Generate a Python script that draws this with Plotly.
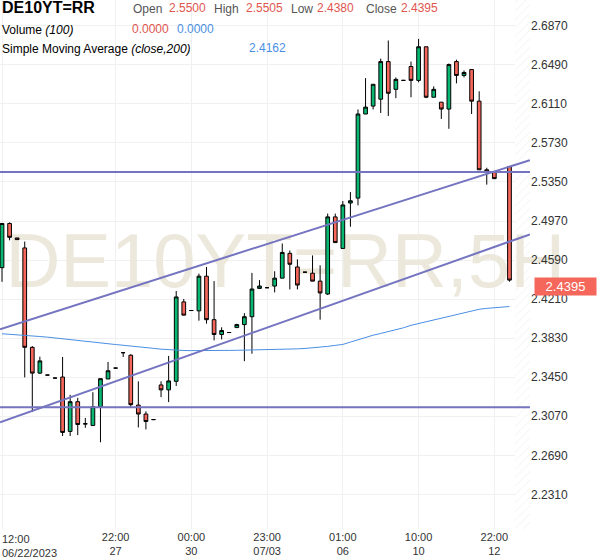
import plotly.graph_objects as go

# 5H bars, one slot per bar index (None = empty slot)
open_ = [2.4516, 2.4946, 2.4805, 2.4708, 2.3741, 2.3490, 2.3471, 2.3442, 2.3452, 2.2923,
         2.3212, 2.2994, 2.2981, 2.3163, 2.3433, 2.3539, 2.3689, 2.3664, 2.3179, 2.3092,
         2.3038, 2.3375, 2.3327, 2.3410, 2.4183, 2.4099, 2.4096, 2.4433, 2.4010, 2.3866,
         2.3885, 2.3933, 2.3962, 2.4039, 2.4314, 2.4321, 2.4337, 2.4414, 2.4655, 2.4523,
         2.4472, 2.4462, 2.4385, 2.4260, 2.5010, 2.4703, 2.5145, 2.5193, 2.6011, 2.6088,
         2.6155, 2.6521, 2.6251, 2.6338, 2.6473, 2.6338, 2.6665, 2.6174, 2.6126, 2.6059,
         2.6521, 2.6386, 2.6444, 2.6136, 2.5468, 2.5449, None, 2.5500]
high = [2.4950, 2.4956, 2.4805, 2.4770, 2.3753, 2.3650, 2.3471, 2.3442, 2.3647, 2.3279,
        2.3250, 2.3054, 2.3304, 2.3436, 2.3599, 2.3539, 2.3689, 2.3674, 2.3410, 2.3118,
        2.3038, 2.3410, 2.3657, 2.4289, 2.4212, 2.4099, 2.4458, 2.4523, 2.4385, 2.3936,
        2.3885, 2.3970, 2.4073, 2.4465, 2.4395, 2.4321, 2.4481, 2.4751, 2.4683, 2.4597,
        2.4472, 2.4635, 2.4539, 2.5042, 2.5042, 2.5164, 2.5251, 2.6055, 2.6360, 2.6300,
        2.6550, 2.6726, 2.6367, 2.6338, 2.6521, 2.6742, 2.6665, 2.6280, 2.6126, 2.6502,
        2.6540, 2.6434, 2.6444, 2.6232, 2.5488, 2.5449, None, 2.5505]
low = [2.4378, 2.4782, 2.4789, 2.3448, 2.3111, 2.3481, 2.3471, 2.3442, 2.2878, 2.2878,
       2.2887, 2.2958, 2.2977, 2.2817, 2.3433, 2.3539, 2.3647, 2.3163, 2.2961, 2.2942,
       2.3038, 2.3256, 2.3208, 2.3365, 2.4054, 2.4099, 2.4000, 2.3971, 2.3808, 2.3818,
       2.3885, 2.3930, 2.3606, 2.3679, 2.4308, 2.4321, 2.4276, 2.4414, 2.4304, 2.4304,
       2.4472, 2.4385, 2.4010, 2.4251, 2.4760, 2.4703, 2.4914, 2.5122, 2.6011, 2.6055,
       2.6021, 2.5992, 2.6165, 2.6338, 2.6174, 2.6319, 2.6165, 2.6174, 2.5963, 2.5867,
       2.6309, 2.6367, 2.6011, 2.5468, 2.5324, 2.5382, None, 2.4380]
close = [2.4946, 2.4811, 2.4789, 2.3741, 2.3490, 2.3609, 2.3471, 2.3442, 2.2913, 2.3212,
         2.2990, 2.2998, 2.3163, 2.3436, 2.3513, 2.3539, 2.3689, 2.3183, 2.3092, 2.3019,
         2.3038, 2.3327, 2.3414, 2.4231, 2.4054, 2.4099, 2.4433, 2.4010, 2.3866, 2.3904,
         2.3885, 2.3962, 2.4039, 2.4308, 2.4337, 2.4321, 2.4414, 2.4664, 2.4549, 2.4347,
         2.4472, 2.4385, 2.4270, 2.5010, 2.4760, 2.5126, 2.5167, 2.6011, 2.6078, 2.6300,
         2.6521, 2.6213, 2.6348, 2.6338, 2.6338, 2.6665, 2.6174, 2.6251, 2.6059, 2.6492,
         2.6386, 2.6415, 2.6136, 2.5468, 2.5449, 2.5382, None, 2.4395]
sma200 = [2.3873, 2.3869, 2.3863, 2.3859, 2.3852, 2.3846, 2.3840, 2.3832, 2.3823, 2.3815,
          2.3805, 2.3794, 2.3787, 2.3780, 2.3773, 2.3768, 2.3761, 2.3755, 2.3747, 2.3739,
          2.3731, 2.3723, 2.3717, 2.3712, 2.3710, 2.3709, 2.3708, 2.3708, 2.3709, 2.3710,
          2.3711, 2.3712, 2.3713, 2.3715, 2.3717, 2.3718, 2.3720, 2.3722, 2.3724, 2.3726,
          2.3730, 2.3735, 2.3741, 2.3750, 2.3760, 2.3769, 2.3792, 2.3816, 2.3842, 2.3859,
          2.3876, 2.3893, 2.3909, 2.3931, 2.3955, 2.3972, 2.3988, 2.4003, 2.4021, 2.4039,
          2.4059, 2.4075, 2.4094, 2.4111, 2.4120, 2.4126, 2.4132, 2.4138]

tick_index = [15, 25, 35, 45, 55, 65]
tick_text = ["22:00<br>27", "00:00<br>30", "23:00<br>07/03", "01:00<br>06",
             "10:00<br>10", "22:00<br>12"]
first_tick_text = "12:00<br>06/22/2023"

price_ticks = [2.2310, 2.2690, 2.3070, 2.3450, 2.3830, 2.4210, 2.4590,
               2.4970, 2.5350, 2.5730, 2.6110, 2.6490, 2.6870]

# drawings on the chart: (bar index, price) end points
channel_upper_x = [-0.26, 69.7]
channel_upper_y = [2.3917, 2.5562]
channel_lower_x = [-0.26, 69.7]
channel_lower_y = [2.3012, 2.4840]
level_lines = [2.5446, 2.3157]

last_price = 2.4395

X_RANGE = [-0.264, 69.71]
Y_RANGE = [2.19734, 2.71201]
HATCH_FROM = 67.73

GREEN = "#08b872"
RED = "#f5675b"
LINE = "#7474c0"
BLUE = "#4a8fe2"
TXT_RED = "#e05550"
FONT = "Liberation Sans, Arial, sans-serif"

fig = go.Figure()

# base subplot: hatch of the empty right edge + watermark
fig.add_trace(go.Bar(
    x=[(HATCH_FROM + X_RANGE[1]) / 2], y=[Y_RANGE[1] - Y_RANGE[0]], base=[Y_RANGE[0]],
    width=[X_RANGE[1] - HATCH_FROM],
    marker=dict(color="white", line=dict(width=0),
                pattern=dict(shape="/", fgcolor="#e4e4e4", bgcolor="white", size=6, solidity=0.15)),
    hoverinfo="skip",
))
fig.add_trace(go.Scatter(
    x=[37.4], y=[2.4515], mode="text", text=["DE10YT=RR,5H"], cliponaxis=False,
    textfont=dict(family=FONT, size=76, color="#ece8dc"), hoverinfo="skip",
))

# overlay subplot: price data
fig.add_trace(go.Scatter(
    x=list(range(len(sma200))), y=sma200, mode="lines",
    line=dict(color=BLUE, width=1), xaxis="x2", yaxis="y2", hoverinfo="skip",
))
fig.add_trace(go.Candlestick(
    x=list(range(len(open_))), open=open_, high=high, low=low, close=close,
    increasing=dict(fillcolor=GREEN, line=dict(color="black", width=1)),
    decreasing=dict(fillcolor=RED, line=dict(color="black", width=1)),
    xaxis="x2", yaxis="y2",
))
for lx, ly in [(channel_upper_x, channel_upper_y), (channel_lower_x, channel_lower_y)]:
    fig.add_trace(go.Scatter(x=lx, y=ly, mode="lines", line=dict(color=LINE, width=2),
                             xaxis="x2", yaxis="y2", hoverinfo="skip"))
for lvl in level_lines:
    fig.add_trace(go.Scatter(x=X_RANGE, y=[lvl, lvl], mode="lines", line=dict(color=LINE, width=2),
                             xaxis="x2", yaxis="y2", hoverinfo="skip"))

# header (legend-like) text
W, H = 530.0, 535.0
header = [
    ("<b>DE10YT=RR</b>", 0, 8, "black", 16),
    ("Open", 131, 9, "#555555", 12), ("2.5500", 167, 8, TXT_RED, 12),
    ("High", 212, 9, "#555555", 12), ("2.5505", 244, 8, TXT_RED, 12),
    ("Low", 289, 9, "#555555", 12), ("2.4380", 315, 8, TXT_RED, 12),
    ("Close", 364, 9, "#555555", 12), ("2.4395", 399, 8, TXT_RED, 12),
    ("Volume <i>(100)</i>", 0, 30, "black", 12),
    ("0.0000", 130, 29, TXT_RED, 12), ("0.0000", 175, 29, BLUE, 12),
    ("Simple Moving Average <i>(close,200)</i>", 0, 50, "black", 12),
    ("2.4162", 247, 49, BLUE, 12),
]
for text, px, py, color, size in header:
    fig.add_annotation(text=text, x=px / W, y=1 - py / H, xref="paper", yref="paper",
                       xanchor="left", yanchor="middle", showarrow=False,
                       font=dict(family=FONT, size=size, color=color))

# first time label sits left-aligned at the chart edge
fig.add_annotation(text=first_tick_text, x=0, y=0, xref="x", yref="paper",
                   xanchor="left", yanchor="top", align="left", showarrow=False,
                   yshift=-2, xshift=-2, font=dict(family=FONT, size=11, color="#333333"))

# last price tag on the price axis
fig.add_annotation(text=f"{last_price:.4f}", x=1, y=last_price, xref="paper", yref="y",
                   xanchor="left", yanchor="middle", xshift=4, yshift=-6, showarrow=False,
                   bgcolor=RED, width=58, height=14, borderpad=1.5,
                   font=dict(family=FONT, size=13, color="white"))

fig.update_layout(
    width=599, height=557,
    margin=dict(l=0, r=69, t=0, b=22),
    paper_bgcolor="white", plot_bgcolor="white",
    showlegend=False,
    font=dict(family=FONT, size=12, color="#333333"),
    xaxis=dict(range=X_RANGE, tickvals=[0] + tick_index, ticktext=[""] + tick_text,
               showgrid=True, gridcolor="#f0f0f0", zeroline=False, showline=False,
               ticks="", tickfont=dict(size=11), tickangle=0),
    yaxis=dict(range=Y_RANGE, side="right", tickvals=price_ticks,
               ticktext=[f"{v:.4f}" for v in price_ticks],
               showgrid=True, gridcolor="#f0f0f0", zeroline=False, showline=False,
               ticks="", tickfont=dict(size=12)),
    xaxis2=dict(overlaying="x", range=X_RANGE, visible=False, rangeslider=dict(visible=False)),
    yaxis2=dict(overlaying="y", range=Y_RANGE, visible=False),
    boxgap=0.3,
)

# page body has a default margin; drop it so the figure fills the window
fig.write_html("out.html", config={"displayModeBar": False},
               post_script="document.body.style.margin='0';")
